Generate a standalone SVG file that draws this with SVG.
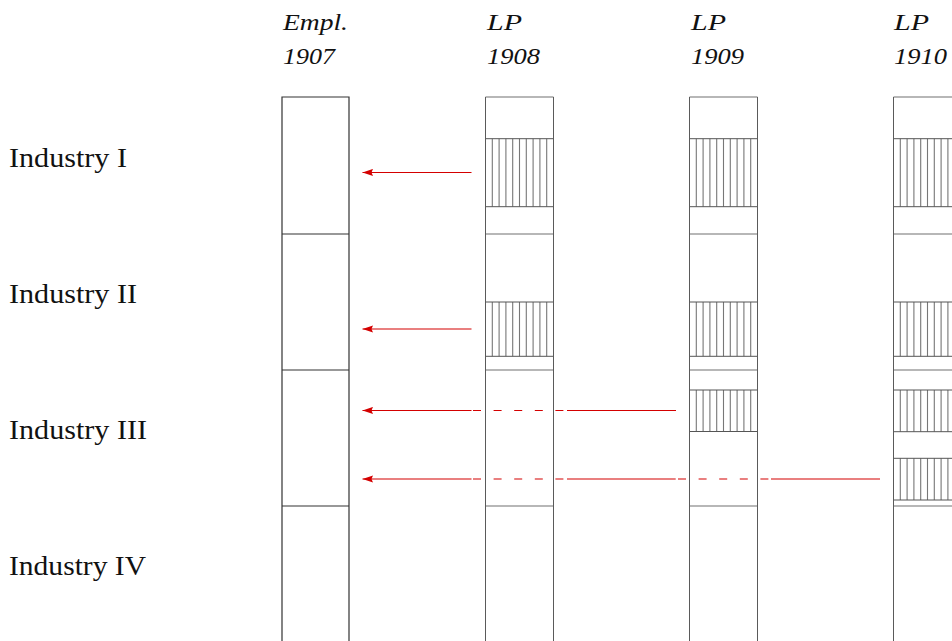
<svg xmlns="http://www.w3.org/2000/svg" width="952" height="641" viewBox="0 0 952 641">
<style>
.hdr{font-family:"Liberation Serif",serif;font-style:italic;font-size:23px;fill:#111}
.lbl{font-family:"Liberation Serif",serif;font-size:27.5px;fill:#111}
.emp{fill:none;stroke:#333;stroke-width:1.2}
.edge{fill:none;stroke:#5a5a5a;stroke-width:1}
.bnd{fill:none;stroke:#a0a0a0;stroke-width:1.3}
.hb{fill:none;stroke:#555;stroke-width:1}
.hl{fill:none;stroke:#777;stroke-width:1.1}
.arr{fill:none;stroke:#d40000;stroke-width:1.2}
.dash{fill:none;stroke:#d40000;stroke-width:1.2;stroke-dasharray:8 12.6}
</style>
<defs>
<marker id="ah" markerUnits="userSpaceOnUse" viewBox="0 0 11 8" markerWidth="11" markerHeight="8" refX="10.5" refY="4" orient="auto">
<path d="M10.5,4 L0,0.4 L1.5,4 L0,7.6 z" fill="#d40000"/>
</marker>
</defs>
<rect width="952" height="641" fill="#fff"/>

<g id="labels">
<text class="lbl" x="9" y="167" textLength="118" lengthAdjust="spacingAndGlyphs">Industry I</text>
<text class="lbl" x="9" y="303" textLength="128" lengthAdjust="spacingAndGlyphs">Industry II</text>
<text class="lbl" x="9" y="439" textLength="138" lengthAdjust="spacingAndGlyphs">Industry III</text>
<text class="lbl" x="9" y="575" textLength="137" lengthAdjust="spacingAndGlyphs">Industry IV</text>
</g>

<g id="col-empl1907">
<text class="hdr" x="283" y="30" textLength="65" lengthAdjust="spacingAndGlyphs">Empl.</text>
<text class="hdr" x="283" y="64" textLength="52" lengthAdjust="spacingAndGlyphs">1907</text>
<path class="emp" d="M282,650 V97 H349 V650 M282,234 H349 M282,370 H349 M282,506 H349"/>
</g>

<g id="col-lp1908">
<text class="hdr" x="487" y="30" textLength="35" lengthAdjust="spacingAndGlyphs">LP</text>
<text class="hdr" x="487" y="64" textLength="53" lengthAdjust="spacingAndGlyphs">1908</text>
<path class="bnd" d="M485.5,97 H553.5 M485.5,234 H553.5 M485.5,370 H553.5 M485.5,506 H553.5"/>
<path class="hl" d="M492.3,138.7 v68 m6.8,-68 v68 m6.8,-68 v68 m6.8,-68 v68 m6.8,-68 v68 m6.8,-68 v68 m6.8,-68 v68 m6.8,-68 v68 m6.8,-68 v68
M492.3,302 v54.3 m6.8,-54.3 v54.3 m6.8,-54.3 v54.3 m6.8,-54.3 v54.3 m6.8,-54.3 v54.3 m6.8,-54.3 v54.3 m6.8,-54.3 v54.3 m6.8,-54.3 v54.3 m6.8,-54.3 v54.3"/>
<path class="hb" d="M485.5,138.7 H553.5 M485.5,206.7 H553.5 M485.5,302 H553.5 M485.5,356.3 H553.5"/>
<path class="edge" d="M485.5,97 V650 M553.5,97 V650"/>
</g>

<g id="col-lp1909">
<text class="hdr" x="691" y="30" textLength="35" lengthAdjust="spacingAndGlyphs">LP</text>
<text class="hdr" x="691" y="64" textLength="53" lengthAdjust="spacingAndGlyphs">1909</text>
<path class="bnd" d="M689.5,97 H757.5 M689.5,234 H757.5 M689.5,370 H757.5 M689.5,506 H757.5"/>
<path class="hl" d="M696.3,138.7 v68 m6.8,-68 v68 m6.8,-68 v68 m6.8,-68 v68 m6.8,-68 v68 m6.8,-68 v68 m6.8,-68 v68 m6.8,-68 v68 m6.8,-68 v68
M696.3,302 v54.3 m6.8,-54.3 v54.3 m6.8,-54.3 v54.3 m6.8,-54.3 v54.3 m6.8,-54.3 v54.3 m6.8,-54.3 v54.3 m6.8,-54.3 v54.3 m6.8,-54.3 v54.3 m6.8,-54.3 v54.3
M696.3,390 v41.5 m6.8,-41.5 v41.5 m6.8,-41.5 v41.5 m6.8,-41.5 v41.5 m6.8,-41.5 v41.5 m6.8,-41.5 v41.5 m6.8,-41.5 v41.5 m6.8,-41.5 v41.5 m6.8,-41.5 v41.5"/>
<path class="hb" d="M689.5,138.7 H757.5 M689.5,206.7 H757.5 M689.5,302 H757.5 M689.5,356.3 H757.5 M689.5,390 H757.5 M689.5,431.5 H757.5"/>
<path class="edge" d="M689.5,97 V650 M757.5,97 V650"/>
</g>

<g id="col-lp1910">
<text class="hdr" x="894" y="30" textLength="35" lengthAdjust="spacingAndGlyphs">LP</text>
<text class="hdr" x="894" y="64" textLength="53" lengthAdjust="spacingAndGlyphs">1910</text>
<path class="bnd" d="M893.5,97 H961.5 M893.5,234 H961.5 M893.5,370 H961.5 M893.5,506 H961.5"/>
<path class="hl" d="M900.3,138.7 v68 m6.8,-68 v68 m6.8,-68 v68 m6.8,-68 v68 m6.8,-68 v68 m6.8,-68 v68 m6.8,-68 v68 m6.8,-68 v68 m6.8,-68 v68
M900.3,302 v54.3 m6.8,-54.3 v54.3 m6.8,-54.3 v54.3 m6.8,-54.3 v54.3 m6.8,-54.3 v54.3 m6.8,-54.3 v54.3 m6.8,-54.3 v54.3 m6.8,-54.3 v54.3 m6.8,-54.3 v54.3
M900.3,390 v41.7 m6.8,-41.7 v41.7 m6.8,-41.7 v41.7 m6.8,-41.7 v41.7 m6.8,-41.7 v41.7 m6.8,-41.7 v41.7 m6.8,-41.7 v41.7 m6.8,-41.7 v41.7 m6.8,-41.7 v41.7
M900.3,458.3 v41.7 m6.8,-41.7 v41.7 m6.8,-41.7 v41.7 m6.8,-41.7 v41.7 m6.8,-41.7 v41.7 m6.8,-41.7 v41.7 m6.8,-41.7 v41.7 m6.8,-41.7 v41.7 m6.8,-41.7 v41.7"/>
<path class="hb" d="M893.5,138.7 H961.5 M893.5,206.7 H961.5 M893.5,302 H961.5 M893.5,356.3 H961.5 M893.5,390 H961.5 M893.5,431.7 H961.5 M893.5,458.3 H961.5 M893.5,500 H961.5"/>
<path class="edge" d="M893.5,97 V650 M961.5,97 V650"/>
</g>

<g id="connectors">
<line class="arr" x1="471.5" y1="172.5" x2="362.5" y2="172.5" marker-end="url(#ah)"/>
<line class="arr" x1="471.5" y1="329" x2="362.5" y2="329" marker-end="url(#ah)"/>
<line class="arr" x1="471.5" y1="410.5" x2="362.5" y2="410.5" marker-end="url(#ah)"/>
<line class="dash" x1="473" y1="410.5" x2="564" y2="410.5"/>
<line class="arr" x1="567" y1="410.5" x2="676" y2="410.5"/>
<line class="arr" x1="471.5" y1="479" x2="362.5" y2="479" marker-end="url(#ah)"/>
<line class="dash" x1="473" y1="479" x2="564" y2="479"/>
<line class="arr" x1="567" y1="479" x2="675.7" y2="479"/>
<line class="dash" x1="678" y1="479" x2="769" y2="479"/>
<line class="arr" x1="771" y1="479" x2="880" y2="479"/>
</g>
</svg>
